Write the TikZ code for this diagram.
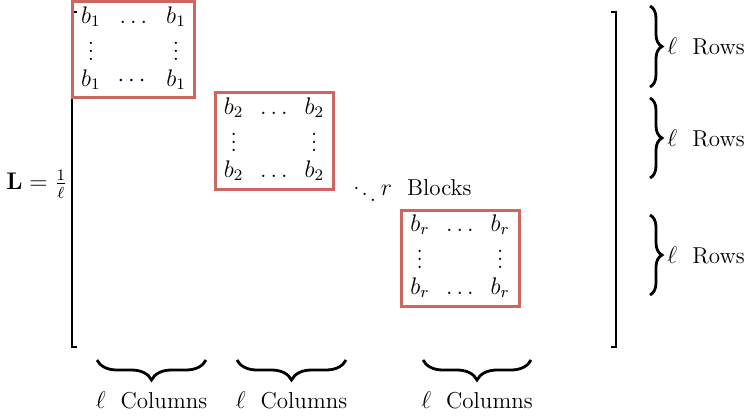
\documentclass[tikz,border=0pt]{standalone}
\usepackage{amsmath, amssymb}
\usepackage{xcolor}
\usepackage{tikz}
\usetikzlibrary{calc, positioning, decorations.pathreplacing}
\definecolor{blockred}{RGB}{205,102,96}
\newcommand{\smvdots}{\raisebox{1pt}{$\scriptstyle\vdots$}}

\begin{document}
\begin{tikzpicture}[x=0.5pt, y=-0.5pt,
    every node/.style={font=\fontsize{11.5pt}{13.8pt}\selectfont},
    blk/.style={draw=blockred, line width=1.5pt, minimum width=59pt, minimum height=48pt, inner sep=0pt},
    brc/.style={decorate, decoration={brace, amplitude=6pt}, line width=1.4pt},
    lbl/.style={inner sep=0pt}]
    \useasboundingbox (0,0) rectangle (754,417);
    \def\arraystretch{0.85}
    \setlength{\arraycolsep}{4.2pt}
    % 1. Matrix brackets
    \draw[line width=1pt] (77,12) -- (72,12) -- (72,347) -- (77,347);
    \draw[line width=1pt] (611,12) -- (616,12) -- (616,347) -- (611,347);
    \node[lbl] (L) at (37,184) {$\mathbf{L}=\frac{1}{\ell}$};

    % 2. Diagonal blocks
    \node[blk] (B1) at (133.5,50) {$\begin{array}{ccc} b_1 & \ldots & b_1\\ \smvdots & & \smvdots\\ b_1 & \cdots & b_1 \end{array}$};
    \node[blk] (B2) at (274,141) {$\begin{array}{ccc} b_2 & \ldots & b_2\\ \smvdots & & \smvdots\\ b_2 & \ldots & b_2 \end{array}$};
    \node[blk] (Br) at (460,258) {$\begin{array}{ccc} b_r & \ldots & b_r\\ \smvdots & & \smvdots\\ b_r & \ldots & b_r \end{array}$};
    \node[lbl] (dots) at (412,188) {$\raisebox{-4pt}{$\scriptstyle\ddots$}\,r$\ \ Blocks};

    % 3. Row braces
    \draw[brc] (650,6) -- (650,87) node[midway, right=8pt, lbl] (row1) {$\ell$\ \ Rows};
    \draw[brc] (650,98) -- (650,178) node[midway, right=8pt, lbl] (row2) {$\ell$\ \ Rows};
    \draw[brc] (650,215) -- (650,295) node[midway, right=8pt, lbl] (row3) {$\ell$\ \ Rows};

    % 4. Column braces
    \draw[brc, decoration={amplitude=10pt}] (206,360) -- (97,360) node[midway, below=15pt, lbl] (col1) {$\ell$\ \ Columns};
    \draw[brc, decoration={amplitude=10pt}] (346,360) -- (237,360) node[midway, below=15pt, lbl] (col2) {$\ell$\ \ Columns};
    \draw[brc, decoration={amplitude=10pt}] (531,360) -- (423,360) node[midway, below=15pt, lbl] (col3) {$\ell$\ \ Columns};
\end{tikzpicture}
\end{document}
